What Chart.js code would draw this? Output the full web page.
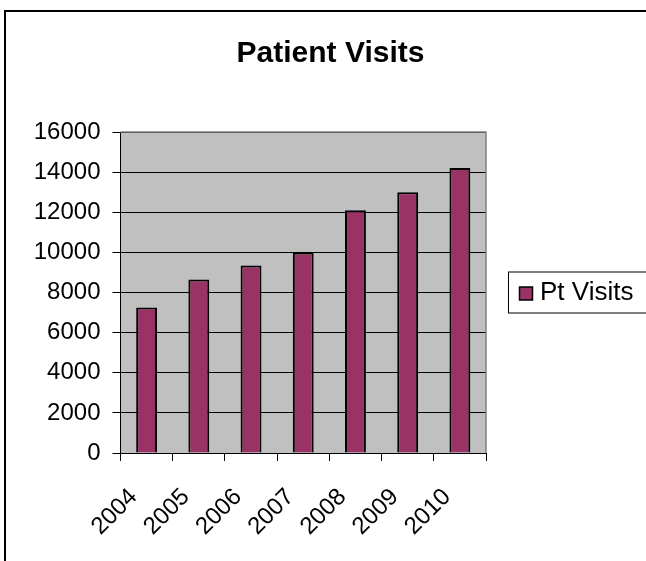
<!DOCTYPE html>
<html>
<head>
<meta charset="utf-8">
<script src="https://cdn.jsdelivr.net/npm/chart.js@4.4.0/dist/chart.umd.min.js"></script>
<style>
  html, body { margin: 0; padding: 0; background: #fff; overflow: hidden; }
  #wrap { position: relative; width: 646px; height: 561px; }
  #frame { position: absolute; left: 4px; top: 10px; width: 700px; height: 600px; border: 2px solid #000; box-sizing: border-box; }
  canvas { position: absolute; left: 0; top: 0; }
</style>
</head>
<body>
<div id="wrap">
  <div id="frame"></div>
  <canvas id="chart" width="646" height="561"></canvas>
</div>
<script>
// patient visits per year
const years = ["2004", "2005", "2006", "2007", "2008", "2009", "2010"];
const visits = [7250, 8650, 9350, 10000, 12100, 13000, 14200];
const seriesName = "Pt Visits";
const yMax = 16000;
const yStep = 2000;

const FONT = "'Liberation Sans', Arial, Helvetica, sans-serif";

// grey plot area with the excel style border on top and right
const plotArea = {
  id: "plotArea",
  beforeDraw(chart) {
    const { ctx, chartArea: a } = chart;
    ctx.save();
    ctx.fillStyle = "#c0c0c0";
    ctx.fillRect(a.left, a.top, a.width, a.height);
    ctx.restore();
  },
  beforeDatasetsDraw(chart) {
    const { ctx, chartArea: a } = chart;
    ctx.save();
    ctx.strokeStyle = "#808080";
    ctx.lineWidth = 1.5;
    ctx.beginPath();
    ctx.moveTo(a.left, a.top);
    ctx.lineTo(a.right, a.top);
    ctx.lineTo(a.right, a.bottom);
    ctx.stroke();
    ctx.restore();
  }
};

// legend box on the right, drawn from the dataset
const boxLegend = {
  id: "boxLegend",
  afterDraw(chart) {
    const { ctx, chartArea: a } = chart;
    const ds = chart.data.datasets[0];
    const x = a.right + 22;
    const cy = (a.top + a.bottom) / 2;
    ctx.save();
    ctx.strokeStyle = "#000";
    ctx.lineWidth = 1;
    ctx.fillStyle = "#fff";
    ctx.fillRect(x, cy - 20.5, 200, 41);
    ctx.strokeRect(x + 0.5, cy - 20.5, 200, 41);
    ctx.fillStyle = ds.backgroundColor;
    ctx.fillRect(x + 11.5, cy - 5.5, 13, 13);
    ctx.lineWidth = 1.5;
    ctx.strokeRect(x + 11.5, cy - 5.5, 13, 13);
    ctx.fillStyle = "#000";
    ctx.font = "26px " + FONT;
    ctx.textBaseline = "middle";
    ctx.fillText(ds.label, x + 32, cy);
    ctx.restore();
  }
};

new Chart(document.getElementById("chart"), {
  type: "bar",
  data: {
    labels: years,
    datasets: [{
      label: seriesName,
      data: visits,
      backgroundColor: "#993366",
      borderColor: "#000",
      borderWidth: 2,
      categoryPercentage: 1,
      barPercentage: 0.4
    }]
  },
  options: {
    responsive: false,
    animation: false,
    layout: { padding: { left: 15, right: 0, top: 0, bottom: 0 } },
    plugins: {
      legend: { display: false },
      tooltip: { enabled: false },
      title: {
        display: true,
        text: "Patient Visits",
        color: "#000",
        font: { family: FONT, size: 30, weight: "bold" },
        padding: { top: 36, bottom: 60 }
      }
    },
    scales: {
      x: {
        grid: { display: true, offset: true, drawOnChartArea: false, color: "#000", tickLength: 8 },
        border: { display: true, color: "#000", width: 1 },
        ticks: {
          color: "#000",
          font: { family: FONT, size: 24 },
          maxRotation: 45,
          minRotation: 45,
          padding: 22,
          labelOffset: -13,
          autoSkip: false
        },
        afterFit(scale) { scale.height = 108; }
      },
      y: {
        min: 0,
        max: yMax,
        grid: { color: "#000", tickLength: 8 },
        border: { display: true, color: "#000", width: 1 },
        ticks: {
          stepSize: yStep,
          color: "#000",
          padding: 12,
          font: { family: FONT, size: 24 },
          callback: v => String(v)
        },
        afterFit(scale) { scale.width = 105.5; }
      },
      // empty axis that reserves room for the legend
      side: {
        type: "linear",
        position: "right",
        grid: { display: false },
        border: { display: false },
        ticks: { display: false },
        afterFit(scale) { scale.width = 160; }
      }
    }
  },
  plugins: [plotArea, boxLegend]
});
</script>
</body>
</html>
